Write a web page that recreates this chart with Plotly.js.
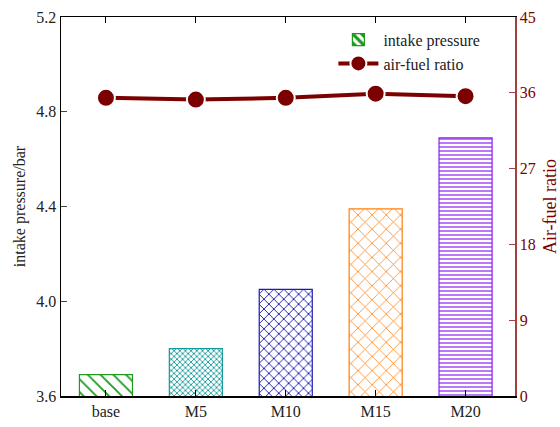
<!DOCTYPE html>
<html><head><meta charset="utf-8">
<script src="https://cdn.plot.ly/plotly-3.0.1.min.js"></script>
<style>html,body{margin:0;padding:0;background:#fff}#chart{width:560px;height:427px}</style>
</head><body><div id="chart"></div>
<script>
const categories = ["base", "M5", "M10", "M15", "M20"];
const intakePressure = [3.69, 3.80, 4.05, 4.39, 4.69];
const airFuelRatio = [35.4, 35.2, 35.4, 35.9, 35.6];
const leftTicks = [3.6, 4.0, 4.4, 4.8, 5.2];
const rightTicks = [0, 9, 18, 27, 36, 45];

const barColors = ["#1f9a1f", "#139a9a", "#1c1cb0", "#ff8010", "#8a20f0"];
const barShapes = ["\\", "x", "x", "x", "-"];
const barSizes = [9, 4, 7, 10, 4];
const red = "#7b0000";
const font = "Liberation Serif";

const traces = [
  {
    type: "bar", x: categories, y: intakePressure,
    name: "intake pressure", width: 0.59,
    marker: {
      color: "#ffffff",
      line: {color: barColors, width: 1.2},
      pattern: {shape: barShapes, fgcolor: barColors, bgcolor: "#ffffff", fgopacity: 1, size: barSizes, solidity: [0.2, 0.4, 0.25, 0.15, 0.3], fillmode: "replace"}
    }
  },
  {
    type: "scatter", mode: "lines+markers", x: categories, y: airFuelRatio, yaxis: "y2",
    name: "air-fuel ratio",
    line: {color: red, width: 4},
    marker: {color: red, size: 18, line: {color: "#ffffff", width: 2}}
  }
];

const layout = {
  width: 560, height: 427,
  margin: {l: 61, r: 45, t: 17, b: 31},
  paper_bgcolor: "#fff", plot_bgcolor: "#fff",
  font: {family: font, size: 16, color: "#222"},
  showlegend: true,
  legend: {x: 0.6, y: 0.985, xanchor: "left", yanchor: "top", bgcolor: "rgba(0,0,0,0)", font: {family: font, size: 16, color: "#222"}, tracegroupgap: 0, itemwidth: 40},
  bargap: 0.41,
  xaxis: {
    range: [-0.5, 4.55], showline: true, linecolor: "#000", linewidth: 1.5, mirror: "ticks",
    ticks: "inside", ticklen: 6, tickcolor: "#000", showgrid: false, zeroline: false,
    tickfont: {family: font, size: 16, color: "#222"}
  },
  yaxis: {
    range: [3.6, 5.2], tickvals: leftTicks, tickformat: ".1f",
    showline: true, linecolor: "#000", linewidth: 1.5, ticks: "inside", ticklen: 6,
    showgrid: false, zeroline: false, tickfont: {family: font, size: 16, color: "#222"},
    title: {text: "intake pressure/bar", font: {family: font, size: 16, color: "#222"}, standoff: 6}
  },
  yaxis2: {
    overlaying: "y", side: "right", range: [0, 45], tickvals: rightTicks,
    showline: true, linecolor: "#a04040", linewidth: 1.5, ticks: "inside", ticklen: 6, tickcolor: "#a04040",
    showgrid: false, zeroline: false, tickfont: {family: font, size: 16, color: red},
    title: {text: "Air-fuel ratio", font: {family: font, size: 18, color: red}, standoff: 8}
  }
};

Plotly.newPlot("chart", traces, layout, {displayModeBar: false, staticPlot: true});
</script></body></html>
